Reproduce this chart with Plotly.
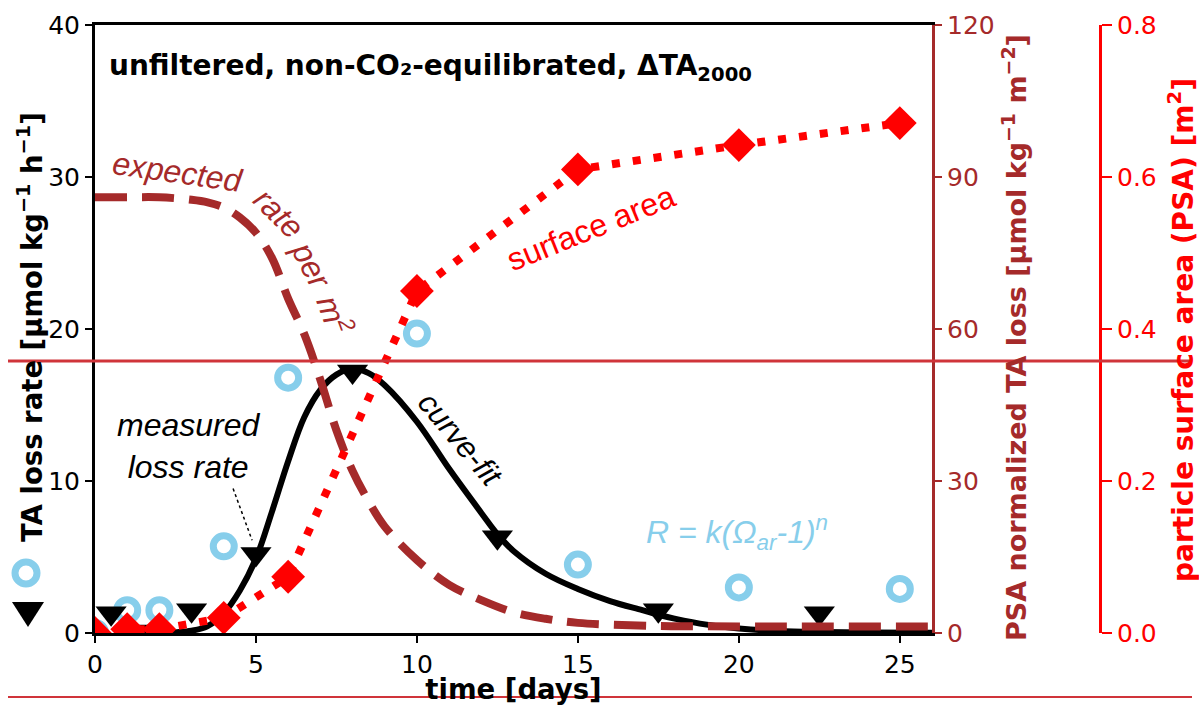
import plotly.graph_objects as go

# ---- measured data -------------------------------------------------------
# TA loss rate from discrete samples (open circles)
circ_days = [0, 1, 2, 4, 6, 10, 15, 20, 25]
circ_rate = [0.0, 1.5, 1.5, 5.7, 16.8, 19.7, 4.5, 3.0, 2.9]

# TA loss rate from interval differences (triangles)
tri_days = [0.5, 1.5, 3, 5, 8, 12.5, 17.5, 22.5]
tri_rate = [1.3, 0.1, 1.5, 5.2, 17.2, 6.3, 1.5, 1.3]

# fitted loss-rate curve
fit_days = [2.0, 2.5, 3.0, 3.5, 4.0, 4.5, 5.0, 5.5, 6.0, 6.5, 7.0, 7.5, 8.0,
            8.5, 9.0, 10.0, 11.0, 12.0, 12.5, 13.0, 14.0, 15.0, 16.0, 17.0,
            17.5, 18.0, 19.0, 20.0, 21.0, 22.0, 24.0, 26.0]
fit_rate = [0.0, 0.05, 0.15, 0.45, 1.3, 2.8, 4.9, 8.0, 11.3, 14.2, 16.0, 17.0,
            17.4, 17.1, 16.3, 13.9, 10.8, 7.9, 6.5, 5.4, 3.9, 2.9, 2.1, 1.5,
            1.2, 0.95, 0.55, 0.3, 0.15, 0.08, 0.03, 0.01]

# expected rate per m2 (PSA normalised), right axis
exp_days = [0, 1, 2, 3, 3.5, 4, 4.5, 5, 5.5, 6, 6.5, 7, 7.5, 8, 8.5, 9, 10,
            11, 12, 13, 14, 15, 17.5, 20, 22.5, 26]
exp_loss = [86, 86, 86, 85.5, 85, 84, 82, 79, 74, 66, 59, 50, 40, 32, 26, 21,
            14.4, 9.5, 6.5, 4.1, 2.8, 2.0, 1.4, 1.3, 1.3, 1.3]

# particle surface area, far-right axis
psa_days = [0, 1, 2, 4, 6, 10, 15, 20, 25]
psa_area = [0.0, 0.005, 0.005, 0.02, 0.074, 0.45, 0.61, 0.642, 0.671]

# ---- axis tick labels ----------------------------------------------------
x_ticks = [0, 5, 10, 15, 20, 25]
y1_ticks = [0, 10, 20, 30, 40]
y2_ticks = [0, 30, 60, 90, 120]
y3_ticks = [0.0, 0.2, 0.4, 0.6, 0.8]
y3_labels = ["0.0", "0.2", "0.4", "0.6", "0.8"]

BROWN = "#a52a2a"
RED = "#ff0000"
SKY = "#87ceeb"
BASE = "DejaVu Sans"
SANS = "Liberation Sans"
NOTE = 32  # size of the in-plot italic labels

W, H = 1199, 705
L, R, T, B = 95, 10, 25, 72
PW = W - L - R


def paper_x(px):
    return (px - L) / PW


def paper_y(py):
    return (H - B - py) / (H - T - B)


fig = go.Figure()

fig.add_trace(go.Scatter(
    x=circ_days, y=circ_rate, mode="markers",
    marker=dict(symbol="circle-open", size=21, color=SKY, line=dict(width=7, color=SKY)),
    showlegend=False))

fig.add_trace(go.Scatter(
    x=tri_days, y=tri_rate, mode="markers",
    marker=dict(symbol="triangle-down", size=27, color="black", line=dict(width=0)),
    showlegend=False))

fig.add_trace(go.Scatter(
    x=fit_days, y=fit_rate, mode="lines",
    line=dict(color="black", width=6, shape="spline"),
    showlegend=False))

fig.add_trace(go.Scatter(
    x=exp_days, y=exp_loss, mode="lines", yaxis="y2",
    line=dict(color=BROWN, width=8, dash="32px,15px", shape="spline"),
    showlegend=False))

fig.add_trace(go.Scatter(
    x=psa_days, y=psa_area, mode="lines", yaxis="y3",
    line=dict(color=RED, width=8, dash="8px,13px"),
    showlegend=False))

fig.add_trace(go.Scatter(
    x=psa_days, y=psa_area, mode="markers", yaxis="y3",
    marker=dict(symbol="diamond", size=26, color=RED, line=dict(width=0)),
    showlegend=False))

tick_font = dict(family=BASE, size=25)

fig.update_layout(
    width=W, height=H,
    margin=dict(l=L, r=R, t=T, b=B, autoexpand=False),
    paper_bgcolor="white", plot_bgcolor="white",
    showlegend=False,
    xaxis=dict(
        domain=[0, paper_x(932)], range=[0, 26],
        tickvals=x_ticks, ticks="outside", ticklen=7, tickwidth=2, tickcolor="black",
        showline=True, linewidth=3, linecolor="black", mirror=True,
        showgrid=False, zeroline=False,
        tickfont=dict(tick_font, color="black"),
        title=dict(text="<b>time [days]</b>", font=dict(family=BASE, size=27.5, color="black"),
                   standoff=2),
    ),
    yaxis=dict(
        range=[0, 40], tickvals=y1_ticks, ticks="outside", ticklen=7, tickwidth=2,
        tickcolor="black", showline=True, linewidth=3, linecolor="black",
        showgrid=False, zeroline=False,
        tickfont=dict(tick_font, color="black"),
    ),
    yaxis2=dict(
        range=[0, 120], tickvals=y2_ticks, overlaying="y", side="right", anchor="x",
        ticks="outside", ticklen=7, tickwidth=2, tickcolor=BROWN,
        showline=True, linewidth=3, linecolor=BROWN,
        showgrid=False, zeroline=False,
        tickfont=dict(tick_font, color=BROWN),
    ),
    yaxis3=dict(
        range=[0, 0.8], tickvals=y3_ticks, ticktext=y3_labels, overlaying="y",
        side="right", anchor="free", position=paper_x(1100),
        ticks="outside", ticklen=10, tickwidth=2, tickcolor=RED,
        showline=True, linewidth=3, linecolor=RED,
        showgrid=False, zeroline=False,
        tickfont=dict(tick_font, color=RED),
    ),
)

ann = []
# axis titles
ann.append(dict(xref="paper", yref="paper", x=paper_x(30), y=paper_y(327),
                text="<b>TA loss rate [µmol kg<sup>−1</sup> h<sup>−1</sup>]</b>",
                textangle=-90, showarrow=False, xanchor="center", yanchor="middle",
                font=dict(family=BASE, size=27.5, color="black")))
ann.append(dict(xref="paper", yref="paper", x=paper_x(1014), y=paper_y(338),
                text="<b>PSA normalized TA loss [µmol kg<sup>−1</sup> m<sup>−2</sup>]</b>",
                textangle=-90, showarrow=False, xanchor="center", yanchor="middle",
                font=dict(family=BASE, size=27, color=BROWN)))
ann.append(dict(xref="paper", yref="paper", x=paper_x(1181), y=paper_y(330),
                text="<b>particle surface area (PSA) [m<sup>2</sup>]</b>",
                textangle=-90, showarrow=False, xanchor="center", yanchor="middle",
                font=dict(family=BASE, size=28, color=RED)))

# panel heading
ann.append(dict(xref="x", yref="y", x=0.37, y=37.2, xanchor="left", yanchor="middle",
                text="<b>unfiltered, non-CO₂-equilibrated, ΔTA<sub>2000</sub></b>",
                showarrow=False, font=dict(family=BASE, size=28, color="black")))

# curved label along the expected-rate line, one word at a time
for word, x, y, ang in [("expected", 2.55, 30.3, 8), ("rate", 5.69, 27.6, 45),
                        ("per", 6.71, 24.2, 62), ("m<sup>2</sup>", 7.46, 20.9, 70)]:
    ann.append(dict(xref="x", yref="y", x=x, y=y, text="<i>" + word + "</i>",
                    textangle=ang, showarrow=False, xanchor="center", yanchor="middle",
                    font=dict(family=SANS, size=NOTE, color=BROWN)))

ann.append(dict(xref="x", yref="y", x=15.41, y=26.64, text="surface area",
                textangle=-22, showarrow=False, xanchor="center", yanchor="middle",
                font=dict(family=SANS, size=NOTE, color=RED)))
ann.append(dict(xref="x", yref="y", x=11.34, y=12.7, text="<i>curve-fit</i>",
                textangle=50, showarrow=False, xanchor="center", yanchor="middle",
                font=dict(family=SANS, size=NOTE - 1, color="black")))
ann.append(dict(xref="x", yref="y", x=2.92, y=12.3, text="<i>measured<br>loss rate</i>",
                showarrow=False, xanchor="center", yanchor="middle", align="center",
                font=dict(family=SANS, size=NOTE, color="black")))
ann.append(dict(xref="x", yref="y", x=19.94, y=6.6,
                text="<i>R = k(Ω<sub>ar</sub>-1)<sup>n</sup></i>",
                showarrow=False, xanchor="center", yanchor="middle",
                font=dict(family=SANS, size=NOTE, color=SKY)))

fig.update_layout(annotations=ann)

shapes = []
# pointer from the label to the measured triangles
shapes.append(dict(type="line", xref="x", yref="y", x0=4.29, y0=9.5, x1=4.88, y1=6.1,
                   line=dict(color="black", width=1.5, dash="dot")))
# marker keys next to the left axis title
shapes.append(dict(type="circle", xref="paper", yref="paper",
                   xsizemode="pixel", ysizemode="pixel",
                   xanchor=paper_x(26), yanchor=paper_y(573),
                   x0=-11, x1=11, y0=-11, y1=11,
                   line=dict(color=SKY, width=7), fillcolor="rgba(0,0,0,0)"))
shapes.append(dict(type="path", xref="paper", yref="paper",
                   xsizemode="pixel", ysizemode="pixel",
                   xanchor=paper_x(28), yanchor=paper_y(611),
                   path="M -16 9 L 16 9 L 0 -16 Z",
                   line=dict(width=0), fillcolor="black"))
# horizontal rules
shapes.append(dict(type="line", xref="paper", yref="paper", layer="above",
                   x0=paper_x(8), x1=paper_x(1192), y0=paper_y(361), y1=paper_y(361),
                   line=dict(color="#d0343a", width=3)))
shapes.append(dict(type="line", xref="paper", yref="paper", layer="above",
                   x0=paper_x(8), x1=paper_x(1192), y0=paper_y(697), y1=paper_y(697),
                   line=dict(color="#d0343a", width=2)))
fig.update_layout(shapes=shapes)

fig.write_html("out.html")
